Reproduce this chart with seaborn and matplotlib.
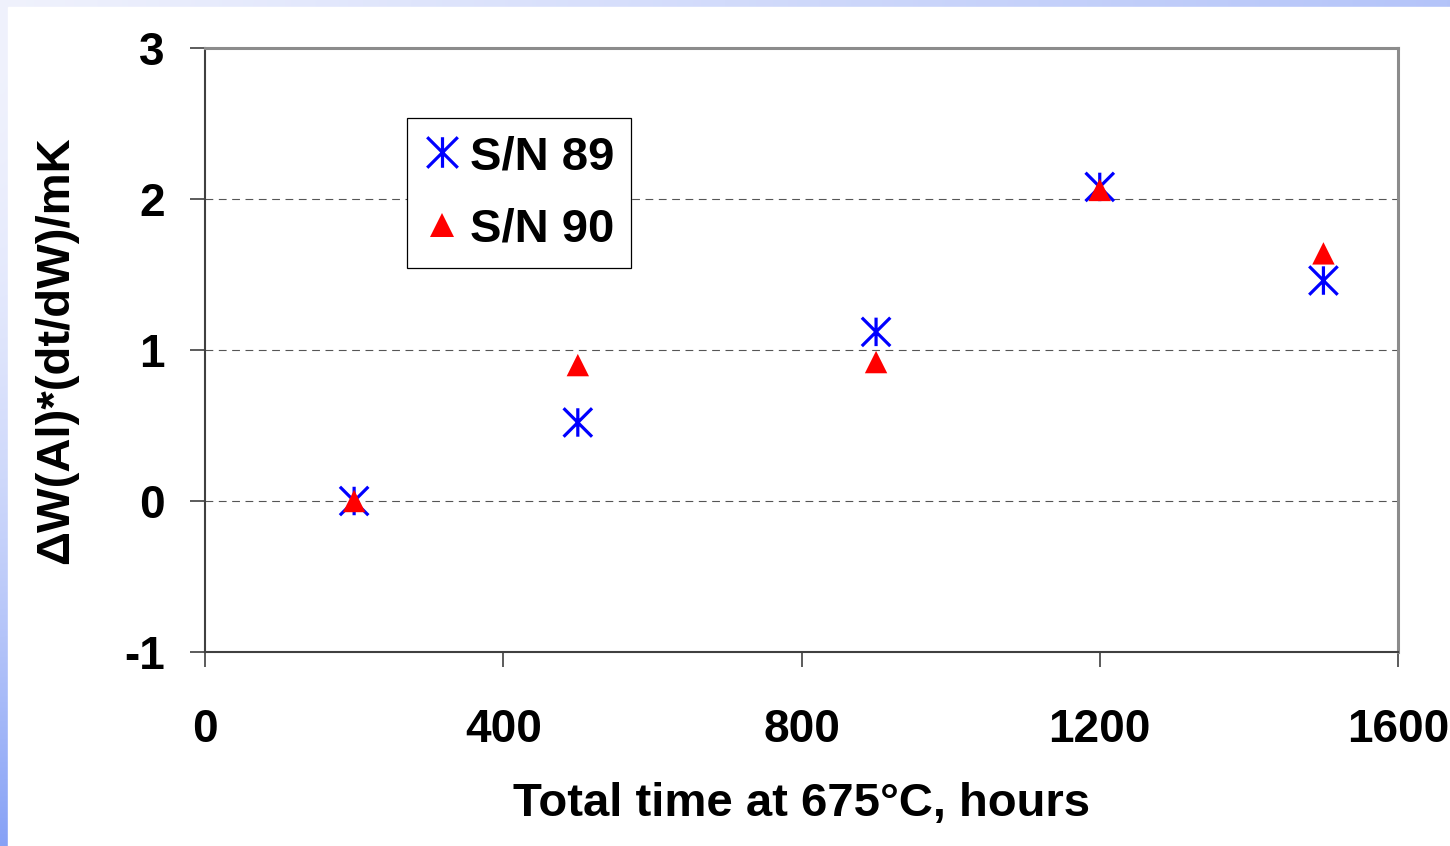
import numpy as np
import pandas as pd
import matplotlib
matplotlib.use("Agg")
import matplotlib.pyplot as plt
from matplotlib.path import Path
from matplotlib.lines import Line2D
from matplotlib.patches import Rectangle
import seaborn as sns

# ---- data ----
hours = [200, 500, 900, 1200, 1500]
sn89 = [0.00, 0.52, 1.12, 2.08, 1.46]
sn90 = [0.00, 0.90, 0.92, 2.06, 1.64]
series_names = ["S/N 89", "S/N 90"]
x_ticks = [0, 400, 800, 1200, 1600]
y_ticks = [-1, 0, 1, 2, 3]
x_label = "Total time at 675°C, hours"
y_label = "ΔW(Al)*(dt/dW)/mK"

sns.set_style("white")
plt.rcParams["font.family"] = ["Liberation Sans", "DejaVu Sans"]
plt.rcParams["font.weight"] = "bold"
plt.rcParams["axes.unicode_minus"] = False
plt.rcParams["text.color"] = "black"
plt.rcParams["axes.labelcolor"] = "black"
plt.rcParams["xtick.color"] = "black"
plt.rcParams["ytick.color"] = "black"

W, H = 1450, 846
fig = plt.figure(figsize=(W / 100, H / 100), dpi=100)

# background gradient with white panel
bg = fig.add_axes([0, 0, 1, 1], zorder=-10)
xx, yy = np.meshgrid(np.linspace(0, 1, 300), np.linspace(0, 1, 300))
t = np.clip(0.5 * xx + 0.88 * yy ** 2, 0, 1)
light = np.array([240, 242, 253]) / 255
blue = np.array([120, 150, 245]) / 255
img = light[None, None, :] * (1 - t[..., None]) + blue[None, None, :] * t[..., None]
bg.imshow(img, extent=[0, 1, 0, 1], aspect="auto", origin="upper")
bg.add_patch(Rectangle((8 / W, 0), 1, (H - 7) / H, color="white", transform=bg.transAxes))
bg.set_xlim(0, 1); bg.set_ylim(0, 1)
bg.axis("off")

ax = fig.add_axes([205 / W, (H - 652) / H, (1398 - 205) / W, (652 - 48) / H])
ax.set_facecolor("white")

asterisk = Path([(0, -1), (0, 1), (-1, -1), (1, 1), (-1, 1), (1, -1)],
                [Path.MOVETO, Path.LINETO, Path.MOVETO, Path.LINETO, Path.MOVETO, Path.LINETO])

df89 = pd.DataFrame({"hours": hours, "value": sn89})
df90 = pd.DataFrame({"hours": hours, "value": sn90})

sns.scatterplot(data=df89, x="hours", y="value", marker=asterisk, s=420,
                facecolor="none", edgecolor="#0000ff", linewidth=2.3, ax=ax, zorder=3)
sns.scatterplot(data=df90, x="hours", y="value", marker="^", s=260,
                color="#ff0000", edgecolor="none", linewidth=0, ax=ax, zorder=4)

ax.set_xlim(0, 1600)
ax.set_ylim(-1, 3)
ax.set_xticks(x_ticks)
ax.set_yticks(y_ticks)
ax.set_xticklabels([str(v) for v in x_ticks])
ax.set_yticklabels([str(v) for v in y_ticks])

ax.yaxis.grid(True, color="#555555", linewidth=0.8, linestyle=(0, (7, 5)))
ax.xaxis.grid(False)
ax.set_axisbelow(True)

for side in ["left", "bottom"]:
    ax.spines[side].set_color("#404040")
    ax.spines[side].set_linewidth(1.5)
for side in ["top", "right"]:
    ax.spines[side].set_color("#8c8c8c")
    ax.spines[side].set_linewidth(2.2)
    ax.spines[side].set_visible(True)

ax.tick_params(axis="both", which="major", direction="out", length=11, width=1.2,
               color="#404040", labelsize=33, labelcolor="black",
               bottom=True, left=True, top=False, right=False)
ax.tick_params(axis="x", pad=29)
ax.tick_params(axis="y", pad=18)
for lab in ax.get_xticklabels() + ax.get_yticklabels():
    lab.set_fontweight("bold")
    lab.set_color("black")

ax.set_xlabel(x_label, fontsize=34, fontweight="bold", labelpad=22, color="black")
ax.set_ylabel(y_label, fontsize=34, fontweight="bold", labelpad=33, color="black")

handles = [
    Line2D([], [], marker=asterisk, markersize=22, markeredgewidth=2.3, color="#0000ff",
           markerfacecolor="none", linestyle="none"),
    Line2D([], [], marker="^", markersize=17, color="#ff0000", markeredgewidth=0,
           linestyle="none"),
]
leg = ax.legend(handles, series_names, loc="upper left",
                bbox_to_anchor=((407 - 205) / (1398 - 205), (652 - 118) / (652 - 48)),
                borderaxespad=0, borderpad=0.36, handlelength=0.75, handletextpad=0.22,
                labelspacing=0.6, frameon=True, fancybox=False, shadow=False,
                prop={"size": 34, "weight": "bold"})
leg.get_frame().set_edgecolor("black")
leg.get_frame().set_linewidth(0.9)
leg.get_frame().set_facecolor("white")
leg.get_frame().set_alpha(1)
for txt in leg.get_texts():
    txt.set_color("black")

fig.savefig("out.png", dpi=100)
